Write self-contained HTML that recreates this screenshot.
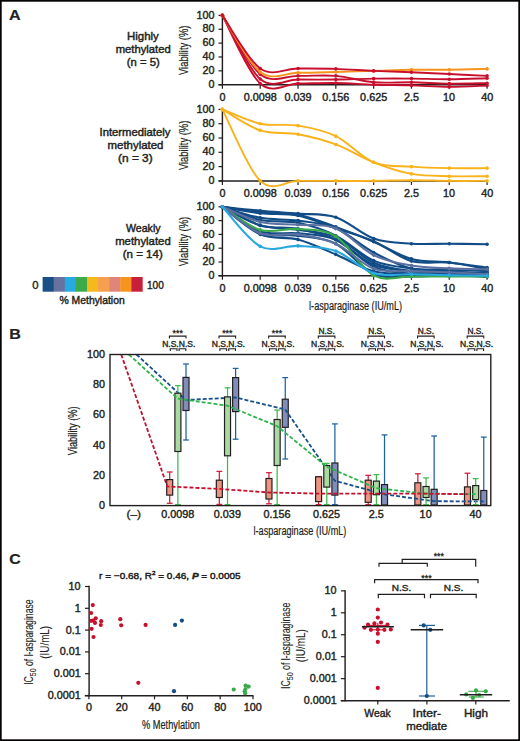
<!DOCTYPE html><html><head><meta charset="utf-8"><style>html,body{margin:0;padding:0;background:#fff;}svg{display:block;font-family:"Liberation Sans",sans-serif;} text{stroke:#231f20;stroke-width:0.35px;}</style></head><body>
<svg width="520" height="741" viewBox="0 0 520 741">
<rect x="0" y="0" width="520" height="741" fill="#fff"/>
<rect x="0.8" y="0.8" width="518.4" height="739.4" fill="none" stroke="#060304" stroke-width="1.8"/>
<text x="9.10" y="19.80" font-size="15" font-weight="bold" fill="#231f20" textLength="11.64" lengthAdjust="spacingAndGlyphs" style="stroke-width:0.2px" >A</text>
<text x="9.32" y="338.60" font-size="15" font-weight="bold" fill="#231f20" textLength="11.62" lengthAdjust="spacingAndGlyphs" style="stroke-width:0.2px" >B</text>
<text x="9.15" y="564.20" font-size="15" font-weight="bold" fill="#231f20" textLength="11.50" lengthAdjust="spacingAndGlyphs" style="stroke-width:0.2px" >C</text>
<text x="127.06" y="40.40" font-size="10.4" font-weight="normal" fill="#231f20" textLength="31.77" lengthAdjust="spacingAndGlyphs" style="stroke-width:0.42px" >Highly</text>
<text x="115.66" y="53.30" font-size="10.4" font-weight="normal" fill="#231f20" textLength="55.08" lengthAdjust="spacingAndGlyphs" style="stroke-width:0.42px" >methylated</text>
<text x="126.80" y="66.30" font-size="10.4" font-weight="normal" fill="#231f20" textLength="32.91" lengthAdjust="spacingAndGlyphs" style="stroke-width:0.42px" >(n = 5)</text>
<text x="-24.45" y="0" font-size="12" fill="#231f20" textLength="49.44" lengthAdjust="spacingAndGlyphs" transform="translate(187.70,50.55) rotate(-90)" style="stroke-width:0.2px">Viability (%)</text>
<line x1="218.50" y1="84.70" x2="222.40" y2="84.70" stroke="#231f20" stroke-width="1.2" />
<text x="208.62" y="87.82" font-size="10.5" font-weight="normal" fill="#231f20" textLength="6.01" lengthAdjust="spacingAndGlyphs" style="stroke-width:0.4px" >0</text>
<line x1="218.50" y1="70.84" x2="222.40" y2="70.84" stroke="#231f20" stroke-width="1.2" />
<text x="202.61" y="73.96" font-size="10.5" font-weight="normal" fill="#231f20" textLength="12.03" lengthAdjust="spacingAndGlyphs" style="stroke-width:0.4px" >20</text>
<line x1="218.50" y1="56.98" x2="222.40" y2="56.98" stroke="#231f20" stroke-width="1.2" />
<text x="202.61" y="60.10" font-size="10.5" font-weight="normal" fill="#231f20" textLength="12.03" lengthAdjust="spacingAndGlyphs" style="stroke-width:0.4px" >40</text>
<line x1="218.50" y1="43.12" x2="222.40" y2="43.12" stroke="#231f20" stroke-width="1.2" />
<text x="202.61" y="46.24" font-size="10.5" font-weight="normal" fill="#231f20" textLength="12.03" lengthAdjust="spacingAndGlyphs" style="stroke-width:0.4px" >60</text>
<line x1="218.50" y1="29.26" x2="222.40" y2="29.26" stroke="#231f20" stroke-width="1.2" />
<text x="202.61" y="32.38" font-size="10.5" font-weight="normal" fill="#231f20" textLength="12.03" lengthAdjust="spacingAndGlyphs" style="stroke-width:0.4px" >80</text>
<line x1="218.50" y1="15.40" x2="222.40" y2="15.40" stroke="#231f20" stroke-width="1.2" />
<text x="196.59" y="18.52" font-size="10.5" font-weight="normal" fill="#231f20" textLength="18.04" lengthAdjust="spacingAndGlyphs" style="stroke-width:0.4px" >100</text>
<line x1="222.40" y1="15.10" x2="222.40" y2="85.30" stroke="#231f20" stroke-width="1.45" />
<line x1="218.50" y1="84.70" x2="488.00" y2="84.70" stroke="#231f20" stroke-width="1.45" />
<line x1="222.40" y1="84.70" x2="222.40" y2="88.70" stroke="#231f20" stroke-width="1.2" />
<line x1="260.21" y1="84.70" x2="260.21" y2="88.70" stroke="#231f20" stroke-width="1.2" />
<line x1="298.02" y1="84.70" x2="298.02" y2="88.70" stroke="#231f20" stroke-width="1.2" />
<line x1="335.83" y1="84.70" x2="335.83" y2="88.70" stroke="#231f20" stroke-width="1.2" />
<line x1="373.64" y1="84.70" x2="373.64" y2="88.70" stroke="#231f20" stroke-width="1.2" />
<line x1="411.45" y1="84.70" x2="411.45" y2="88.70" stroke="#231f20" stroke-width="1.2" />
<line x1="449.26" y1="84.70" x2="449.26" y2="88.70" stroke="#231f20" stroke-width="1.2" />
<line x1="487.07" y1="84.70" x2="487.07" y2="88.70" stroke="#231f20" stroke-width="1.2" />
<path d="M222.40,15.40 C228.70,25.21 247.61,64.16 260.21,74.24 C272.81,84.31 285.42,75.56 298.02,75.83 C310.62,76.10 323.23,74.76 335.83,75.83 C348.43,76.90 361.04,81.20 373.64,82.27 C386.24,83.35 398.85,82.04 411.45,82.27 C424.05,82.51 436.66,83.51 449.26,83.66 C461.86,83.81 480.77,83.26 487.07,83.18" stroke="#c8102e" stroke-width="1.9" fill="none" />
<circle cx="222.40" cy="15.40" r="1.8" fill="#c8102e"/>
<circle cx="260.21" cy="74.24" r="1.8" fill="#c8102e"/>
<circle cx="298.02" cy="75.83" r="1.8" fill="#c8102e"/>
<circle cx="335.83" cy="75.83" r="1.8" fill="#c8102e"/>
<circle cx="373.64" cy="82.27" r="1.8" fill="#c8102e"/>
<circle cx="411.45" cy="82.27" r="1.8" fill="#c8102e"/>
<circle cx="449.26" cy="83.66" r="1.8" fill="#c8102e"/>
<circle cx="487.07" cy="83.18" r="1.8" fill="#c8102e"/>
<path d="M222.40,15.40 C228.70,26.00 247.61,68.32 260.21,79.02 C272.81,89.71 285.42,79.48 298.02,79.57 C310.62,79.66 323.23,79.72 335.83,79.57 C348.43,79.42 361.04,78.83 373.64,78.67 C386.24,78.51 398.85,78.51 411.45,78.60 C424.05,78.69 436.66,79.29 449.26,79.23 C461.86,79.16 480.77,78.36 487.07,78.19" stroke="#c8102e" stroke-width="1.9" fill="none" />
<circle cx="222.40" cy="15.40" r="1.8" fill="#c8102e"/>
<circle cx="260.21" cy="79.02" r="1.8" fill="#c8102e"/>
<circle cx="298.02" cy="79.57" r="1.8" fill="#c8102e"/>
<circle cx="335.83" cy="79.57" r="1.8" fill="#c8102e"/>
<circle cx="373.64" cy="78.67" r="1.8" fill="#c8102e"/>
<circle cx="411.45" cy="78.60" r="1.8" fill="#c8102e"/>
<circle cx="449.26" cy="79.23" r="1.8" fill="#c8102e"/>
<circle cx="487.07" cy="78.19" r="1.8" fill="#c8102e"/>
<path d="M222.40,15.40 C228.70,26.75 247.61,72.17 260.21,83.52 C272.81,94.88 285.42,83.61 298.02,83.52 C310.62,83.43 323.23,82.77 335.83,82.97 C348.43,83.16 361.04,84.30 373.64,84.70 C386.24,85.10 398.85,85.02 411.45,85.39 C424.05,85.76 436.66,86.88 449.26,86.92 C461.86,86.95 480.77,85.82 487.07,85.60" stroke="#c8102e" stroke-width="1.9" fill="none" />
<circle cx="222.40" cy="15.40" r="1.8" fill="#c8102e"/>
<circle cx="260.21" cy="83.52" r="1.8" fill="#c8102e"/>
<circle cx="298.02" cy="83.52" r="1.8" fill="#c8102e"/>
<circle cx="335.83" cy="82.97" r="1.8" fill="#c8102e"/>
<circle cx="373.64" cy="84.70" r="1.8" fill="#c8102e"/>
<circle cx="411.45" cy="85.39" r="1.8" fill="#c8102e"/>
<circle cx="449.26" cy="86.92" r="1.8" fill="#c8102e"/>
<circle cx="487.07" cy="85.60" r="1.8" fill="#c8102e"/>
<path d="M222.40,15.40 C228.70,24.82 247.61,62.40 260.21,71.95 C272.81,81.50 285.42,72.71 298.02,72.71 C310.62,72.71 323.23,72.25 335.83,71.95 C348.43,71.65 361.04,71.27 373.64,70.91 C386.24,70.55 398.85,70.00 411.45,69.80 C424.05,69.60 436.66,69.88 449.26,69.73 C461.86,69.58 480.77,69.04 487.07,68.90" stroke="#f7941d" stroke-width="1.9" fill="none" />
<circle cx="222.40" cy="15.40" r="1.8" fill="#f7941d"/>
<circle cx="260.21" cy="71.95" r="1.8" fill="#f7941d"/>
<circle cx="298.02" cy="72.71" r="1.8" fill="#f7941d"/>
<circle cx="335.83" cy="71.95" r="1.8" fill="#f7941d"/>
<circle cx="373.64" cy="70.91" r="1.8" fill="#f7941d"/>
<circle cx="411.45" cy="69.80" r="1.8" fill="#f7941d"/>
<circle cx="449.26" cy="69.73" r="1.8" fill="#f7941d"/>
<circle cx="487.07" cy="68.90" r="1.8" fill="#f7941d"/>
<path d="M222.40,15.40 C228.70,24.25 247.61,59.64 260.21,68.48 C272.81,77.33 285.42,68.43 298.02,68.48 C310.62,68.54 323.23,68.43 335.83,68.83 C348.43,69.23 361.04,70.33 373.64,70.91 C386.24,71.49 398.85,71.78 411.45,72.30 C424.05,72.82 436.66,73.44 449.26,74.03 C461.86,74.62 480.77,75.53 487.07,75.83" stroke="#c8102e" stroke-width="1.9" fill="none" />
<circle cx="222.40" cy="15.40" r="1.8" fill="#c8102e"/>
<circle cx="260.21" cy="68.48" r="1.8" fill="#c8102e"/>
<circle cx="298.02" cy="68.48" r="1.8" fill="#c8102e"/>
<circle cx="335.83" cy="68.83" r="1.8" fill="#c8102e"/>
<circle cx="373.64" cy="70.91" r="1.8" fill="#c8102e"/>
<circle cx="411.45" cy="72.30" r="1.8" fill="#c8102e"/>
<circle cx="449.26" cy="74.03" r="1.8" fill="#c8102e"/>
<circle cx="487.07" cy="75.83" r="1.8" fill="#c8102e"/>
<text x="219.40" y="100.72" font-size="10.5" font-weight="normal" fill="#231f20" textLength="6.01" lengthAdjust="spacingAndGlyphs" style="stroke-width:0.4px" >0</text>
<text x="243.70" y="100.72" font-size="10.5" font-weight="normal" fill="#231f20" textLength="33.08" lengthAdjust="spacingAndGlyphs" style="stroke-width:0.4px" >0.0098</text>
<text x="284.54" y="100.72" font-size="10.5" font-weight="normal" fill="#231f20" textLength="27.06" lengthAdjust="spacingAndGlyphs" style="stroke-width:0.4px" >0.039</text>
<text x="322.33" y="100.72" font-size="10.5" font-weight="normal" fill="#231f20" textLength="27.06" lengthAdjust="spacingAndGlyphs" style="stroke-width:0.4px" >0.156</text>
<text x="360.13" y="100.72" font-size="10.5" font-weight="normal" fill="#231f20" textLength="27.06" lengthAdjust="spacingAndGlyphs" style="stroke-width:0.4px" >0.625</text>
<text x="403.90" y="100.72" font-size="10.5" font-weight="normal" fill="#231f20" textLength="15.03" lengthAdjust="spacingAndGlyphs" style="stroke-width:0.4px" >2.5</text>
<text x="443.05" y="100.72" font-size="10.5" font-weight="normal" fill="#231f20" textLength="12.03" lengthAdjust="spacingAndGlyphs" style="stroke-width:0.4px" >10</text>
<text x="481.15" y="100.72" font-size="10.5" font-weight="normal" fill="#231f20" textLength="12.03" lengthAdjust="spacingAndGlyphs" style="stroke-width:0.4px" >40</text>
<text x="99.56" y="135.80" font-size="10.4" font-weight="normal" fill="#231f20" textLength="70.87" lengthAdjust="spacingAndGlyphs" style="stroke-width:0.42px" >Intermediately</text>
<text x="107.55" y="148.70" font-size="10.4" font-weight="normal" fill="#231f20" textLength="55.90" lengthAdjust="spacingAndGlyphs" style="stroke-width:0.42px" >methylated</text>
<text x="118.07" y="161.60" font-size="10.4" font-weight="normal" fill="#231f20" textLength="34.58" lengthAdjust="spacingAndGlyphs" style="stroke-width:0.42px" >(n = 3)</text>
<text x="-24.45" y="0" font-size="12" fill="#231f20" textLength="49.44" lengthAdjust="spacingAndGlyphs" transform="translate(187.70,145.65) rotate(-90)" style="stroke-width:0.2px">Viability (%)</text>
<line x1="218.50" y1="180.90" x2="222.40" y2="180.90" stroke="#231f20" stroke-width="1.2" />
<text x="208.62" y="184.02" font-size="10.5" font-weight="normal" fill="#231f20" textLength="6.01" lengthAdjust="spacingAndGlyphs" style="stroke-width:0.4px" >0</text>
<line x1="218.50" y1="166.60" x2="222.40" y2="166.60" stroke="#231f20" stroke-width="1.2" />
<text x="202.61" y="169.72" font-size="10.5" font-weight="normal" fill="#231f20" textLength="12.03" lengthAdjust="spacingAndGlyphs" style="stroke-width:0.4px" >20</text>
<line x1="218.50" y1="152.30" x2="222.40" y2="152.30" stroke="#231f20" stroke-width="1.2" />
<text x="202.61" y="155.42" font-size="10.5" font-weight="normal" fill="#231f20" textLength="12.03" lengthAdjust="spacingAndGlyphs" style="stroke-width:0.4px" >40</text>
<line x1="218.50" y1="138.00" x2="222.40" y2="138.00" stroke="#231f20" stroke-width="1.2" />
<text x="202.61" y="141.12" font-size="10.5" font-weight="normal" fill="#231f20" textLength="12.03" lengthAdjust="spacingAndGlyphs" style="stroke-width:0.4px" >60</text>
<line x1="218.50" y1="123.70" x2="222.40" y2="123.70" stroke="#231f20" stroke-width="1.2" />
<text x="202.61" y="126.82" font-size="10.5" font-weight="normal" fill="#231f20" textLength="12.03" lengthAdjust="spacingAndGlyphs" style="stroke-width:0.4px" >80</text>
<line x1="218.50" y1="109.40" x2="222.40" y2="109.40" stroke="#231f20" stroke-width="1.2" />
<text x="196.59" y="112.52" font-size="10.5" font-weight="normal" fill="#231f20" textLength="18.04" lengthAdjust="spacingAndGlyphs" style="stroke-width:0.4px" >100</text>
<line x1="222.40" y1="109.10" x2="222.40" y2="181.50" stroke="#231f20" stroke-width="1.45" />
<line x1="218.50" y1="180.90" x2="488.00" y2="180.90" stroke="#231f20" stroke-width="1.45" />
<line x1="222.40" y1="180.90" x2="222.40" y2="184.90" stroke="#231f20" stroke-width="1.2" />
<line x1="260.21" y1="180.90" x2="260.21" y2="184.90" stroke="#231f20" stroke-width="1.2" />
<line x1="298.02" y1="180.90" x2="298.02" y2="184.90" stroke="#231f20" stroke-width="1.2" />
<line x1="335.83" y1="180.90" x2="335.83" y2="184.90" stroke="#231f20" stroke-width="1.2" />
<line x1="373.64" y1="180.90" x2="373.64" y2="184.90" stroke="#231f20" stroke-width="1.2" />
<line x1="411.45" y1="180.90" x2="411.45" y2="184.90" stroke="#231f20" stroke-width="1.2" />
<line x1="449.26" y1="180.90" x2="449.26" y2="184.90" stroke="#231f20" stroke-width="1.2" />
<line x1="487.07" y1="180.90" x2="487.07" y2="184.90" stroke="#231f20" stroke-width="1.2" />
<path d="M222.40,109.40 C228.70,111.78 247.61,120.99 260.21,123.70 C272.81,126.41 285.42,123.56 298.02,125.63 C310.62,127.70 323.23,130.03 335.83,136.14 C348.43,142.25 361.04,157.22 373.64,162.31 C386.24,167.40 398.85,165.69 411.45,166.67 C424.05,167.65 436.66,167.92 449.26,168.17 C461.86,168.42 480.77,168.17 487.07,168.17" stroke="#f9b21a" stroke-width="1.9" fill="none" />
<circle cx="222.40" cy="109.40" r="1.8" fill="#f9b21a"/>
<circle cx="260.21" cy="123.70" r="1.8" fill="#f9b21a"/>
<circle cx="298.02" cy="125.63" r="1.8" fill="#f9b21a"/>
<circle cx="335.83" cy="136.14" r="1.8" fill="#f9b21a"/>
<circle cx="373.64" cy="162.31" r="1.8" fill="#f9b21a"/>
<circle cx="411.45" cy="166.67" r="1.8" fill="#f9b21a"/>
<circle cx="449.26" cy="168.17" r="1.8" fill="#f9b21a"/>
<circle cx="487.07" cy="168.17" r="1.8" fill="#f9b21a"/>
<path d="M222.40,109.40 C228.70,112.90 247.61,126.29 260.21,130.42 C272.81,134.56 285.42,131.87 298.02,134.21 C310.62,136.55 323.23,139.75 335.83,144.44 C348.43,149.12 361.04,157.40 373.64,162.31 C386.24,167.22 398.85,171.58 411.45,173.89 C424.05,176.20 436.66,175.80 449.26,176.18 C461.86,176.56 480.77,176.18 487.07,176.18" stroke="#f9b21a" stroke-width="1.9" fill="none" />
<circle cx="222.40" cy="109.40" r="1.8" fill="#f9b21a"/>
<circle cx="260.21" cy="130.42" r="1.8" fill="#f9b21a"/>
<circle cx="298.02" cy="134.21" r="1.8" fill="#f9b21a"/>
<circle cx="335.83" cy="144.44" r="1.8" fill="#f9b21a"/>
<circle cx="373.64" cy="162.31" r="1.8" fill="#f9b21a"/>
<circle cx="411.45" cy="173.89" r="1.8" fill="#f9b21a"/>
<circle cx="449.26" cy="176.18" r="1.8" fill="#f9b21a"/>
<circle cx="487.07" cy="176.18" r="1.8" fill="#f9b21a"/>
<path d="M222.40,109.40 C228.70,121.32 247.61,168.98 260.21,180.90 C272.81,192.82 285.42,180.90 298.02,180.90 C310.62,180.90 323.23,180.90 335.83,180.90 C348.43,180.90 361.04,181.02 373.64,180.90 C386.24,180.78 398.85,180.19 411.45,180.19 C424.05,180.19 436.66,180.78 449.26,180.90 C461.86,181.02 480.77,180.90 487.07,180.90" stroke="#f9b21a" stroke-width="1.9" fill="none" />
<circle cx="222.40" cy="109.40" r="1.8" fill="#f9b21a"/>
<circle cx="260.21" cy="180.90" r="1.8" fill="#f9b21a"/>
<circle cx="298.02" cy="180.90" r="1.8" fill="#f9b21a"/>
<circle cx="335.83" cy="180.90" r="1.8" fill="#f9b21a"/>
<circle cx="373.64" cy="180.90" r="1.8" fill="#f9b21a"/>
<circle cx="411.45" cy="180.19" r="1.8" fill="#f9b21a"/>
<circle cx="449.26" cy="180.90" r="1.8" fill="#f9b21a"/>
<circle cx="487.07" cy="180.90" r="1.8" fill="#f9b21a"/>
<text x="219.40" y="196.92" font-size="10.5" font-weight="normal" fill="#231f20" textLength="6.01" lengthAdjust="spacingAndGlyphs" style="stroke-width:0.4px" >0</text>
<text x="243.70" y="196.92" font-size="10.5" font-weight="normal" fill="#231f20" textLength="33.08" lengthAdjust="spacingAndGlyphs" style="stroke-width:0.4px" >0.0098</text>
<text x="284.54" y="196.92" font-size="10.5" font-weight="normal" fill="#231f20" textLength="27.06" lengthAdjust="spacingAndGlyphs" style="stroke-width:0.4px" >0.039</text>
<text x="322.33" y="196.92" font-size="10.5" font-weight="normal" fill="#231f20" textLength="27.06" lengthAdjust="spacingAndGlyphs" style="stroke-width:0.4px" >0.156</text>
<text x="360.13" y="196.92" font-size="10.5" font-weight="normal" fill="#231f20" textLength="27.06" lengthAdjust="spacingAndGlyphs" style="stroke-width:0.4px" >0.625</text>
<text x="403.90" y="196.92" font-size="10.5" font-weight="normal" fill="#231f20" textLength="15.03" lengthAdjust="spacingAndGlyphs" style="stroke-width:0.4px" >2.5</text>
<text x="443.05" y="196.92" font-size="10.5" font-weight="normal" fill="#231f20" textLength="12.03" lengthAdjust="spacingAndGlyphs" style="stroke-width:0.4px" >10</text>
<text x="481.15" y="196.92" font-size="10.5" font-weight="normal" fill="#231f20" textLength="12.03" lengthAdjust="spacingAndGlyphs" style="stroke-width:0.4px" >40</text>
<text x="125.95" y="232.30" font-size="10.4" font-weight="normal" fill="#231f20" textLength="34.69" lengthAdjust="spacingAndGlyphs" style="stroke-width:0.42px" >Weakly</text>
<text x="115.15" y="245.20" font-size="10.4" font-weight="normal" fill="#231f20" textLength="55.60" lengthAdjust="spacingAndGlyphs" style="stroke-width:0.42px" >methylated</text>
<text x="122.69" y="258.10" font-size="10.4" font-weight="normal" fill="#231f20" textLength="40.04" lengthAdjust="spacingAndGlyphs" style="stroke-width:0.42px" >(n = 14)</text>
<text x="-24.45" y="0" font-size="12" fill="#231f20" textLength="49.44" lengthAdjust="spacingAndGlyphs" transform="translate(187.70,241.80) rotate(-90)" style="stroke-width:0.2px">Viability (%)</text>
<line x1="218.50" y1="275.80" x2="222.40" y2="275.80" stroke="#231f20" stroke-width="1.2" />
<text x="208.62" y="278.92" font-size="10.5" font-weight="normal" fill="#231f20" textLength="6.01" lengthAdjust="spacingAndGlyphs" style="stroke-width:0.4px" >0</text>
<line x1="218.50" y1="262.00" x2="222.40" y2="262.00" stroke="#231f20" stroke-width="1.2" />
<text x="202.61" y="265.12" font-size="10.5" font-weight="normal" fill="#231f20" textLength="12.03" lengthAdjust="spacingAndGlyphs" style="stroke-width:0.4px" >20</text>
<line x1="218.50" y1="248.20" x2="222.40" y2="248.20" stroke="#231f20" stroke-width="1.2" />
<text x="202.61" y="251.32" font-size="10.5" font-weight="normal" fill="#231f20" textLength="12.03" lengthAdjust="spacingAndGlyphs" style="stroke-width:0.4px" >40</text>
<line x1="218.50" y1="234.40" x2="222.40" y2="234.40" stroke="#231f20" stroke-width="1.2" />
<text x="202.61" y="237.52" font-size="10.5" font-weight="normal" fill="#231f20" textLength="12.03" lengthAdjust="spacingAndGlyphs" style="stroke-width:0.4px" >60</text>
<line x1="218.50" y1="220.60" x2="222.40" y2="220.60" stroke="#231f20" stroke-width="1.2" />
<text x="202.61" y="223.72" font-size="10.5" font-weight="normal" fill="#231f20" textLength="12.03" lengthAdjust="spacingAndGlyphs" style="stroke-width:0.4px" >80</text>
<line x1="218.50" y1="206.80" x2="222.40" y2="206.80" stroke="#231f20" stroke-width="1.2" />
<text x="196.59" y="209.92" font-size="10.5" font-weight="normal" fill="#231f20" textLength="18.04" lengthAdjust="spacingAndGlyphs" style="stroke-width:0.4px" >100</text>
<line x1="222.40" y1="206.50" x2="222.40" y2="276.40" stroke="#231f20" stroke-width="1.45" />
<line x1="218.50" y1="275.80" x2="488.00" y2="275.80" stroke="#231f20" stroke-width="1.45" />
<line x1="222.40" y1="275.80" x2="222.40" y2="279.80" stroke="#231f20" stroke-width="1.2" />
<line x1="260.21" y1="275.80" x2="260.21" y2="279.80" stroke="#231f20" stroke-width="1.2" />
<line x1="298.02" y1="275.80" x2="298.02" y2="279.80" stroke="#231f20" stroke-width="1.2" />
<line x1="335.83" y1="275.80" x2="335.83" y2="279.80" stroke="#231f20" stroke-width="1.2" />
<line x1="373.64" y1="275.80" x2="373.64" y2="279.80" stroke="#231f20" stroke-width="1.2" />
<line x1="411.45" y1="275.80" x2="411.45" y2="279.80" stroke="#231f20" stroke-width="1.2" />
<line x1="449.26" y1="275.80" x2="449.26" y2="279.80" stroke="#231f20" stroke-width="1.2" />
<line x1="487.07" y1="275.80" x2="487.07" y2="279.80" stroke="#231f20" stroke-width="1.2" />
<path d="M222.40,206.80 C228.70,207.46 247.61,209.59 260.21,210.73 C272.81,211.87 285.42,212.55 298.02,213.63 C310.62,214.71 323.23,213.07 335.83,217.22 C348.43,221.37 361.04,234.12 373.64,238.54 C386.24,242.96 398.85,242.85 411.45,243.72 C424.05,244.58 436.66,243.62 449.26,243.72 C461.86,243.81 480.77,244.18 487.07,244.27" stroke="#124c86" stroke-width="2.1" fill="none" />
<circle cx="222.40" cy="206.80" r="1.8" fill="#124c86"/>
<circle cx="260.21" cy="210.73" r="1.8" fill="#124c86"/>
<circle cx="298.02" cy="213.63" r="1.8" fill="#124c86"/>
<circle cx="335.83" cy="217.22" r="1.8" fill="#124c86"/>
<circle cx="373.64" cy="238.54" r="1.8" fill="#124c86"/>
<circle cx="411.45" cy="243.72" r="1.8" fill="#124c86"/>
<circle cx="449.26" cy="243.72" r="1.8" fill="#124c86"/>
<circle cx="487.07" cy="244.27" r="1.8" fill="#124c86"/>
<path d="M222.40,206.80 C228.70,207.72 247.61,211.00 260.21,212.32 C272.81,213.64 285.42,212.31 298.02,214.74 C310.62,217.16 323.23,222.38 335.83,226.88 C348.43,231.38 361.04,236.38 373.64,241.71 C386.24,247.05 398.85,255.43 411.45,258.90 C424.05,262.36 436.66,261.05 449.26,262.48 C461.86,263.92 480.77,266.68 487.07,267.52" stroke="#124c86" stroke-width="2.1" fill="none" />
<circle cx="222.40" cy="206.80" r="1.8" fill="#124c86"/>
<circle cx="260.21" cy="212.32" r="1.8" fill="#124c86"/>
<circle cx="298.02" cy="214.74" r="1.8" fill="#124c86"/>
<circle cx="335.83" cy="226.88" r="1.8" fill="#124c86"/>
<circle cx="373.64" cy="241.71" r="1.8" fill="#124c86"/>
<circle cx="411.45" cy="258.90" r="1.8" fill="#124c86"/>
<circle cx="449.26" cy="262.48" r="1.8" fill="#124c86"/>
<circle cx="487.07" cy="267.52" r="1.8" fill="#124c86"/>
<path d="M222.40,206.80 C228.70,207.87 247.61,211.77 260.21,213.22 C272.81,214.67 285.42,212.98 298.02,215.49 C310.62,218.01 323.23,224.03 335.83,228.33 C348.43,232.63 361.04,235.84 373.64,241.30 C386.24,246.76 398.85,257.57 411.45,261.10 C424.05,264.63 436.66,261.11 449.26,262.48 C461.86,263.85 480.77,268.18 487.07,269.31" stroke="#124c86" stroke-width="2.1" fill="none" />
<circle cx="222.40" cy="206.80" r="1.8" fill="#124c86"/>
<circle cx="260.21" cy="213.22" r="1.8" fill="#124c86"/>
<circle cx="298.02" cy="215.49" r="1.8" fill="#124c86"/>
<circle cx="335.83" cy="228.33" r="1.8" fill="#124c86"/>
<circle cx="373.64" cy="241.30" r="1.8" fill="#124c86"/>
<circle cx="411.45" cy="261.10" r="1.8" fill="#124c86"/>
<circle cx="449.26" cy="262.48" r="1.8" fill="#124c86"/>
<circle cx="487.07" cy="269.31" r="1.8" fill="#124c86"/>
<path d="M222.40,206.80 C228.70,208.64 247.61,215.54 260.21,217.84 C272.81,220.14 285.42,218.85 298.02,220.60 C310.62,222.35 323.23,223.02 335.83,228.33 C348.43,233.64 361.04,245.80 373.64,252.48 C386.24,259.16 398.85,265.68 411.45,268.42 C424.05,271.15 436.66,268.45 449.26,268.90 C461.86,269.35 480.77,270.74 487.07,271.11" stroke="#124c86" stroke-width="2.1" fill="none" />
<circle cx="222.40" cy="206.80" r="1.8" fill="#124c86"/>
<circle cx="260.21" cy="217.84" r="1.8" fill="#124c86"/>
<circle cx="298.02" cy="220.60" r="1.8" fill="#124c86"/>
<circle cx="335.83" cy="228.33" r="1.8" fill="#124c86"/>
<circle cx="373.64" cy="252.48" r="1.8" fill="#124c86"/>
<circle cx="411.45" cy="268.42" r="1.8" fill="#124c86"/>
<circle cx="449.26" cy="268.90" r="1.8" fill="#124c86"/>
<circle cx="487.07" cy="271.11" r="1.8" fill="#124c86"/>
<path d="M222.40,206.80 C228.70,208.99 247.61,217.24 260.21,219.91 C272.81,222.58 285.42,220.17 298.02,222.81 C310.62,225.44 323.23,229.41 335.83,235.71 C348.43,242.01 361.04,255.17 373.64,260.62 C386.24,266.07 398.85,266.67 411.45,268.42 C424.05,270.17 436.66,270.96 449.26,271.11 C461.86,271.26 480.77,269.61 487.07,269.31" stroke="#124c86" stroke-width="2.1" fill="none" />
<circle cx="222.40" cy="206.80" r="1.8" fill="#124c86"/>
<circle cx="260.21" cy="219.91" r="1.8" fill="#124c86"/>
<circle cx="298.02" cy="222.81" r="1.8" fill="#124c86"/>
<circle cx="335.83" cy="235.71" r="1.8" fill="#124c86"/>
<circle cx="373.64" cy="260.62" r="1.8" fill="#124c86"/>
<circle cx="411.45" cy="268.42" r="1.8" fill="#124c86"/>
<circle cx="449.26" cy="271.11" r="1.8" fill="#124c86"/>
<circle cx="487.07" cy="269.31" r="1.8" fill="#124c86"/>
<path d="M222.40,206.80 C228.70,209.86 247.61,221.30 260.21,225.15 C272.81,229.01 285.42,227.94 298.02,229.92 C310.62,231.89 323.23,231.56 335.83,237.02 C348.43,242.48 361.04,257.01 373.64,262.69 C386.24,268.37 398.85,269.50 411.45,271.11 C424.05,272.72 436.66,272.05 449.26,272.35 C461.86,272.65 480.77,272.81 487.07,272.90" stroke="#124c86" stroke-width="2.1" fill="none" />
<circle cx="222.40" cy="206.80" r="1.8" fill="#124c86"/>
<circle cx="260.21" cy="225.15" r="1.8" fill="#124c86"/>
<circle cx="298.02" cy="229.92" r="1.8" fill="#124c86"/>
<circle cx="335.83" cy="237.02" r="1.8" fill="#124c86"/>
<circle cx="373.64" cy="262.69" r="1.8" fill="#124c86"/>
<circle cx="411.45" cy="271.11" r="1.8" fill="#124c86"/>
<circle cx="449.26" cy="272.35" r="1.8" fill="#124c86"/>
<circle cx="487.07" cy="272.90" r="1.8" fill="#124c86"/>
<path d="M222.40,206.80 C228.70,209.91 247.61,221.75 260.21,225.43 C272.81,229.11 285.42,226.50 298.02,228.88 C310.62,231.26 323.23,233.73 335.83,239.71 C348.43,245.69 361.04,259.53 373.64,264.76 C386.24,269.99 398.85,269.84 411.45,271.11 C424.05,272.37 436.66,272.05 449.26,272.35 C461.86,272.65 480.77,272.81 487.07,272.90" stroke="#124c86" stroke-width="2.1" fill="none" />
<circle cx="222.40" cy="206.80" r="1.8" fill="#124c86"/>
<circle cx="260.21" cy="225.43" r="1.8" fill="#124c86"/>
<circle cx="298.02" cy="228.88" r="1.8" fill="#124c86"/>
<circle cx="335.83" cy="239.71" r="1.8" fill="#124c86"/>
<circle cx="373.64" cy="264.76" r="1.8" fill="#124c86"/>
<circle cx="411.45" cy="271.11" r="1.8" fill="#124c86"/>
<circle cx="449.26" cy="272.35" r="1.8" fill="#124c86"/>
<circle cx="487.07" cy="272.90" r="1.8" fill="#124c86"/>
<path d="M222.40,206.80 C228.70,210.89 247.61,226.96 260.21,231.36 C272.81,235.77 285.42,231.84 298.02,233.23 C310.62,234.62 323.23,234.15 335.83,239.71 C348.43,245.28 361.04,260.93 373.64,266.62 C386.24,272.32 398.85,272.66 411.45,273.87 C424.05,275.08 436.66,273.73 449.26,273.87 C461.86,274.01 480.77,274.56 487.07,274.70" stroke="#124c86" stroke-width="2.1" fill="none" />
<circle cx="222.40" cy="206.80" r="1.8" fill="#124c86"/>
<circle cx="260.21" cy="231.36" r="1.8" fill="#124c86"/>
<circle cx="298.02" cy="233.23" r="1.8" fill="#124c86"/>
<circle cx="335.83" cy="239.71" r="1.8" fill="#124c86"/>
<circle cx="373.64" cy="266.62" r="1.8" fill="#124c86"/>
<circle cx="411.45" cy="273.87" r="1.8" fill="#124c86"/>
<circle cx="449.26" cy="273.87" r="1.8" fill="#124c86"/>
<circle cx="487.07" cy="274.70" r="1.8" fill="#124c86"/>
<path d="M222.40,206.80 C228.70,211.40 247.61,228.94 260.21,234.40 C272.81,239.86 285.42,236.23 298.02,239.58 C310.62,242.92 323.23,249.19 335.83,254.48 C348.43,259.77 361.04,268.08 373.64,271.31 C386.24,274.55 398.85,273.22 411.45,273.87 C424.05,274.51 436.66,275.04 449.26,275.18 C461.86,275.32 480.77,274.78 487.07,274.70" stroke="#124c86" stroke-width="2.1" fill="none" />
<circle cx="222.40" cy="206.80" r="1.8" fill="#124c86"/>
<circle cx="260.21" cy="234.40" r="1.8" fill="#124c86"/>
<circle cx="298.02" cy="239.58" r="1.8" fill="#124c86"/>
<circle cx="335.83" cy="254.48" r="1.8" fill="#124c86"/>
<circle cx="373.64" cy="271.31" r="1.8" fill="#124c86"/>
<circle cx="411.45" cy="273.87" r="1.8" fill="#124c86"/>
<circle cx="449.26" cy="275.18" r="1.8" fill="#124c86"/>
<circle cx="487.07" cy="274.70" r="1.8" fill="#124c86"/>
<path d="M222.40,206.80 C228.70,211.17 247.61,228.19 260.21,233.02 C272.81,237.85 285.42,234.00 298.02,235.78 C310.62,237.56 323.23,237.34 335.83,243.72 C348.43,250.09 361.04,268.54 373.64,274.01 C386.24,279.47 398.85,276.29 411.45,276.49 C424.05,276.69 436.66,275.12 449.26,275.18 C461.86,275.24 480.77,276.56 487.07,276.84" stroke="#124c86" stroke-width="2.1" fill="none" />
<circle cx="222.40" cy="206.80" r="1.8" fill="#124c86"/>
<circle cx="260.21" cy="233.02" r="1.8" fill="#124c86"/>
<circle cx="298.02" cy="235.78" r="1.8" fill="#124c86"/>
<circle cx="335.83" cy="243.72" r="1.8" fill="#124c86"/>
<circle cx="373.64" cy="274.01" r="1.8" fill="#124c86"/>
<circle cx="411.45" cy="276.49" r="1.8" fill="#124c86"/>
<circle cx="449.26" cy="275.18" r="1.8" fill="#124c86"/>
<circle cx="487.07" cy="276.84" r="1.8" fill="#124c86"/>
<path d="M222.40,206.80 C228.70,210.65 247.61,226.22 260.21,229.92 C272.81,233.61 285.42,227.86 298.02,228.95 C310.62,230.04 323.23,228.73 335.83,236.47 C348.43,244.21 361.04,268.72 373.64,275.39 C386.24,282.06 398.85,276.31 411.45,276.49 C424.05,276.67 436.66,276.49 449.26,276.49 C461.86,276.49 480.77,276.49 487.07,276.49" stroke="#3aaa48" stroke-width="2.1" fill="none" />
<circle cx="222.40" cy="206.80" r="1.8" fill="#3aaa48"/>
<circle cx="260.21" cy="229.92" r="1.8" fill="#3aaa48"/>
<circle cx="298.02" cy="228.95" r="1.8" fill="#3aaa48"/>
<circle cx="335.83" cy="236.47" r="1.8" fill="#3aaa48"/>
<circle cx="373.64" cy="275.39" r="1.8" fill="#3aaa48"/>
<circle cx="411.45" cy="276.49" r="1.8" fill="#3aaa48"/>
<circle cx="449.26" cy="276.49" r="1.8" fill="#3aaa48"/>
<circle cx="487.07" cy="276.49" r="1.8" fill="#3aaa48"/>
<path d="M222.40,206.80 C228.70,209.33 247.61,218.99 260.21,221.98 C272.81,224.97 285.42,223.68 298.02,224.74 C310.62,225.80 323.23,223.27 335.83,228.33 C348.43,233.39 361.04,248.89 373.64,255.10 C386.24,261.31 398.85,263.37 411.45,265.59 C424.05,267.81 436.66,267.80 449.26,268.42 C461.86,269.04 480.77,269.16 487.07,269.31" stroke="#5b70a0" stroke-width="2.1" fill="none" />
<circle cx="222.40" cy="206.80" r="1.8" fill="#5b70a0"/>
<circle cx="260.21" cy="221.98" r="1.8" fill="#5b70a0"/>
<circle cx="298.02" cy="224.74" r="1.8" fill="#5b70a0"/>
<circle cx="335.83" cy="228.33" r="1.8" fill="#5b70a0"/>
<circle cx="373.64" cy="255.10" r="1.8" fill="#5b70a0"/>
<circle cx="411.45" cy="265.59" r="1.8" fill="#5b70a0"/>
<circle cx="449.26" cy="268.42" r="1.8" fill="#5b70a0"/>
<circle cx="487.07" cy="269.31" r="1.8" fill="#5b70a0"/>
<path d="M222.40,206.80 C228.70,211.20 247.61,228.63 260.21,233.23 C272.81,237.83 285.42,232.65 298.02,234.40 C310.62,236.15 323.23,238.01 335.83,243.72 C348.43,249.42 361.04,264.06 373.64,268.62 C386.24,273.19 398.85,270.49 411.45,271.11 C424.05,271.73 436.66,271.83 449.26,272.35 C461.86,272.87 480.77,273.90 487.07,274.21" stroke="#5b70a0" stroke-width="2.1" fill="none" />
<circle cx="222.40" cy="206.80" r="1.8" fill="#5b70a0"/>
<circle cx="260.21" cy="233.23" r="1.8" fill="#5b70a0"/>
<circle cx="298.02" cy="234.40" r="1.8" fill="#5b70a0"/>
<circle cx="335.83" cy="243.72" r="1.8" fill="#5b70a0"/>
<circle cx="373.64" cy="268.62" r="1.8" fill="#5b70a0"/>
<circle cx="411.45" cy="271.11" r="1.8" fill="#5b70a0"/>
<circle cx="449.26" cy="272.35" r="1.8" fill="#5b70a0"/>
<circle cx="487.07" cy="274.21" r="1.8" fill="#5b70a0"/>
<path d="M222.40,206.80 C228.70,213.39 247.61,239.82 260.21,246.34 C272.81,252.86 285.42,245.13 298.02,245.92 C310.62,246.72 323.23,246.54 335.83,251.10 C348.43,255.65 361.04,269.39 373.64,273.25 C386.24,277.10 398.85,273.89 411.45,274.21 C424.05,274.54 436.66,274.91 449.26,275.18 C461.86,275.44 480.77,275.70 487.07,275.80" stroke="#27a8e0" stroke-width="2.1" fill="none" />
<circle cx="222.40" cy="206.80" r="1.8" fill="#27a8e0"/>
<circle cx="260.21" cy="246.34" r="1.8" fill="#27a8e0"/>
<circle cx="298.02" cy="245.92" r="1.8" fill="#27a8e0"/>
<circle cx="335.83" cy="251.10" r="1.8" fill="#27a8e0"/>
<circle cx="373.64" cy="273.25" r="1.8" fill="#27a8e0"/>
<circle cx="411.45" cy="274.21" r="1.8" fill="#27a8e0"/>
<circle cx="449.26" cy="275.18" r="1.8" fill="#27a8e0"/>
<circle cx="487.07" cy="275.80" r="1.8" fill="#27a8e0"/>
<text x="219.40" y="291.82" font-size="10.5" font-weight="normal" fill="#231f20" textLength="6.01" lengthAdjust="spacingAndGlyphs" style="stroke-width:0.4px" >0</text>
<text x="243.70" y="291.82" font-size="10.5" font-weight="normal" fill="#231f20" textLength="33.08" lengthAdjust="spacingAndGlyphs" style="stroke-width:0.4px" >0.0098</text>
<text x="284.54" y="291.82" font-size="10.5" font-weight="normal" fill="#231f20" textLength="27.06" lengthAdjust="spacingAndGlyphs" style="stroke-width:0.4px" >0.039</text>
<text x="322.33" y="291.82" font-size="10.5" font-weight="normal" fill="#231f20" textLength="27.06" lengthAdjust="spacingAndGlyphs" style="stroke-width:0.4px" >0.156</text>
<text x="360.13" y="291.82" font-size="10.5" font-weight="normal" fill="#231f20" textLength="27.06" lengthAdjust="spacingAndGlyphs" style="stroke-width:0.4px" >0.625</text>
<text x="403.90" y="291.82" font-size="10.5" font-weight="normal" fill="#231f20" textLength="15.03" lengthAdjust="spacingAndGlyphs" style="stroke-width:0.4px" >2.5</text>
<text x="443.05" y="291.82" font-size="10.5" font-weight="normal" fill="#231f20" textLength="12.03" lengthAdjust="spacingAndGlyphs" style="stroke-width:0.4px" >10</text>
<text x="481.15" y="291.82" font-size="10.5" font-weight="normal" fill="#231f20" textLength="12.03" lengthAdjust="spacingAndGlyphs" style="stroke-width:0.4px" >40</text>
<text x="309.09" y="310.30" font-size="12" font-weight="normal" fill="#231f20" textLength="92.99" lengthAdjust="spacingAndGlyphs" style="stroke-width:0.2px" >l-asparaginase (IU/mL)</text>
<rect x="42.60" y="277" width="11.39" height="14.7" fill="#1b4f85"/>
<rect x="53.69" y="277" width="11.39" height="14.7" fill="#6673a0"/>
<rect x="64.78" y="277" width="11.39" height="14.7" fill="#27a9e1"/>
<rect x="75.87" y="277" width="11.39" height="14.7" fill="#3aaa4a"/>
<rect x="86.96" y="277" width="11.39" height="14.7" fill="#f5b91c"/>
<rect x="98.04" y="277" width="11.39" height="14.7" fill="#f6a04f"/>
<rect x="109.13" y="277" width="11.39" height="14.7" fill="#e0857a"/>
<rect x="120.22" y="277" width="11.39" height="14.7" fill="#f7941d"/>
<rect x="131.31" y="277" width="11.39" height="14.7" fill="#c8203a"/>
<text x="32.36" y="288.92" font-size="10.5" font-weight="normal" fill="#231f20" textLength="6.30" lengthAdjust="spacingAndGlyphs" >0</text>
<text x="146.93" y="288.92" font-size="10.5" font-weight="normal" fill="#231f20" textLength="16.88" lengthAdjust="spacingAndGlyphs" style="stroke-width:0.4px" >100</text>
<text x="59.53" y="303.50" font-size="10.4" font-weight="normal" fill="#231f20" textLength="65.16" lengthAdjust="spacingAndGlyphs" style="stroke-width:0.42px" >% Methylation</text>
<text x="99.12" y="509.02" font-size="10.5" font-weight="normal" fill="#231f20" textLength="6.01" lengthAdjust="spacingAndGlyphs" style="stroke-width:0.4px" >0</text>
<text x="93.11" y="478.80" font-size="10.5" font-weight="normal" fill="#231f20" textLength="12.03" lengthAdjust="spacingAndGlyphs" style="stroke-width:0.4px" >20</text>
<text x="93.11" y="448.58" font-size="10.5" font-weight="normal" fill="#231f20" textLength="12.03" lengthAdjust="spacingAndGlyphs" style="stroke-width:0.4px" >40</text>
<text x="93.11" y="418.36" font-size="10.5" font-weight="normal" fill="#231f20" textLength="12.03" lengthAdjust="spacingAndGlyphs" style="stroke-width:0.4px" >60</text>
<text x="93.11" y="388.14" font-size="10.5" font-weight="normal" fill="#231f20" textLength="12.03" lengthAdjust="spacingAndGlyphs" style="stroke-width:0.4px" >80</text>
<text x="87.09" y="357.92" font-size="10.5" font-weight="normal" fill="#231f20" textLength="18.04" lengthAdjust="spacingAndGlyphs" style="stroke-width:0.4px" >100</text>
<text x="-24.15" y="0" font-size="12" fill="#231f20" textLength="48.83" lengthAdjust="spacingAndGlyphs" transform="translate(76.90,431.00) rotate(-90)" style="stroke-width:0.2px">Viability (%)</text>
<text x="126.57" y="517.82" font-size="10.5" font-weight="normal" fill="#231f20" textLength="14.37" lengthAdjust="spacingAndGlyphs" >(–)</text>
<text x="161.19" y="517.82" font-size="10.5" font-weight="normal" fill="#231f20" textLength="33.08" lengthAdjust="spacingAndGlyphs" style="stroke-width:0.4px" >0.0098</text>
<text x="213.85" y="517.82" font-size="10.5" font-weight="normal" fill="#231f20" textLength="27.06" lengthAdjust="spacingAndGlyphs" style="stroke-width:0.4px" >0.039</text>
<text x="263.46" y="517.82" font-size="10.5" font-weight="normal" fill="#231f20" textLength="27.06" lengthAdjust="spacingAndGlyphs" style="stroke-width:0.4px" >0.156</text>
<text x="313.08" y="517.82" font-size="10.5" font-weight="normal" fill="#231f20" textLength="27.06" lengthAdjust="spacingAndGlyphs" style="stroke-width:0.4px" >0.625</text>
<text x="368.67" y="517.82" font-size="10.5" font-weight="normal" fill="#231f20" textLength="15.03" lengthAdjust="spacingAndGlyphs" style="stroke-width:0.4px" >2.5</text>
<text x="419.64" y="517.82" font-size="10.5" font-weight="normal" fill="#231f20" textLength="12.03" lengthAdjust="spacingAndGlyphs" style="stroke-width:0.4px" >10</text>
<text x="469.56" y="517.82" font-size="10.5" font-weight="normal" fill="#231f20" textLength="12.03" lengthAdjust="spacingAndGlyphs" style="stroke-width:0.4px" >40</text>
<text x="253.49" y="535.20" font-size="12" font-weight="normal" fill="#231f20" textLength="92.89" lengthAdjust="spacingAndGlyphs" style="stroke-width:0.2px" >l-asparaginase (IU/mL)</text>
<line x1="169.70" y1="472.00" x2="169.70" y2="503.30" stroke="#d01d3a" stroke-width="1.25" />
<line x1="166.80" y1="472.00" x2="172.60" y2="472.00" stroke="#d01d3a" stroke-width="1.25" />
<line x1="166.80" y1="503.30" x2="172.60" y2="503.30" stroke="#d01d3a" stroke-width="1.25" />
<rect x="166.70" y="479.60" width="6.0" height="15.50" fill="#eb9482" stroke="#231f20" stroke-width="1.2"/>
<line x1="219.33" y1="471.40" x2="219.33" y2="504.40" stroke="#d01d3a" stroke-width="1.25" />
<line x1="216.43" y1="471.40" x2="222.23" y2="471.40" stroke="#d01d3a" stroke-width="1.25" />
<line x1="216.43" y1="504.40" x2="222.23" y2="504.40" stroke="#d01d3a" stroke-width="1.25" />
<rect x="216.33" y="480.20" width="6.0" height="17.30" fill="#eb9482" stroke="#231f20" stroke-width="1.2"/>
<line x1="268.96" y1="472.70" x2="268.96" y2="503.80" stroke="#d01d3a" stroke-width="1.25" />
<line x1="266.06" y1="472.70" x2="271.86" y2="472.70" stroke="#d01d3a" stroke-width="1.25" />
<line x1="266.06" y1="503.80" x2="271.86" y2="503.80" stroke="#d01d3a" stroke-width="1.25" />
<rect x="265.96" y="478.50" width="6.0" height="20.50" fill="#eb9482" stroke="#231f20" stroke-width="1.2"/>
<line x1="318.59" y1="476.80" x2="318.59" y2="505.00" stroke="#d01d3a" stroke-width="1.25" />
<line x1="315.69" y1="476.80" x2="321.49" y2="476.80" stroke="#d01d3a" stroke-width="1.25" />
<line x1="315.69" y1="504.60" x2="321.49" y2="504.60" stroke="#d01d3a" stroke-width="1.25" />
<rect x="315.59" y="476.80" width="6.0" height="24.80" fill="#eb9482" stroke="#231f20" stroke-width="1.2"/>
<line x1="368.22" y1="475.30" x2="368.22" y2="505.00" stroke="#d01d3a" stroke-width="1.25" />
<line x1="365.32" y1="475.30" x2="371.12" y2="475.30" stroke="#d01d3a" stroke-width="1.25" />
<line x1="365.32" y1="504.60" x2="371.12" y2="504.60" stroke="#d01d3a" stroke-width="1.25" />
<rect x="365.22" y="480.20" width="6.0" height="22.10" fill="#eb9482" stroke="#231f20" stroke-width="1.2"/>
<line x1="417.85" y1="473.80" x2="417.85" y2="505.00" stroke="#d01d3a" stroke-width="1.25" />
<line x1="414.95" y1="473.80" x2="420.75" y2="473.80" stroke="#d01d3a" stroke-width="1.25" />
<line x1="414.95" y1="504.60" x2="420.75" y2="504.60" stroke="#d01d3a" stroke-width="1.25" />
<rect x="414.85" y="482.80" width="6.0" height="22.20" fill="#eb9482" stroke="#231f20" stroke-width="1.2"/>
<line x1="467.48" y1="473.20" x2="467.48" y2="505.00" stroke="#d01d3a" stroke-width="1.25" />
<line x1="464.58" y1="473.20" x2="470.38" y2="473.20" stroke="#d01d3a" stroke-width="1.25" />
<line x1="464.58" y1="504.60" x2="470.38" y2="504.60" stroke="#d01d3a" stroke-width="1.25" />
<rect x="464.48" y="486.90" width="6.0" height="18.10" fill="#eb9482" stroke="#231f20" stroke-width="1.2"/>
<line x1="186.00" y1="364.00" x2="186.00" y2="440.00" stroke="#1c62a0" stroke-width="1.25" />
<line x1="183.10" y1="364.00" x2="188.90" y2="364.00" stroke="#1c62a0" stroke-width="1.25" />
<line x1="183.10" y1="440.00" x2="188.90" y2="440.00" stroke="#1c62a0" stroke-width="1.25" />
<rect x="183.00" y="377.40" width="6.0" height="33.10" fill="#808dbb" stroke="#231f20" stroke-width="1.2"/>
<line x1="235.63" y1="368.40" x2="235.63" y2="439.20" stroke="#1c62a0" stroke-width="1.25" />
<line x1="232.73" y1="368.40" x2="238.53" y2="368.40" stroke="#1c62a0" stroke-width="1.25" />
<line x1="232.73" y1="439.20" x2="238.53" y2="439.20" stroke="#1c62a0" stroke-width="1.25" />
<rect x="232.63" y="377.60" width="6.0" height="34.00" fill="#808dbb" stroke="#231f20" stroke-width="1.2"/>
<line x1="285.26" y1="377.60" x2="285.26" y2="459.00" stroke="#1c62a0" stroke-width="1.25" />
<line x1="282.36" y1="377.60" x2="288.16" y2="377.60" stroke="#1c62a0" stroke-width="1.25" />
<line x1="282.36" y1="459.00" x2="288.16" y2="459.00" stroke="#1c62a0" stroke-width="1.25" />
<rect x="282.26" y="399.20" width="6.0" height="28.10" fill="#808dbb" stroke="#231f20" stroke-width="1.2"/>
<line x1="334.89" y1="423.90" x2="334.89" y2="505.00" stroke="#1c62a0" stroke-width="1.25" />
<line x1="331.99" y1="423.90" x2="337.79" y2="423.90" stroke="#1c62a0" stroke-width="1.25" />
<line x1="331.99" y1="504.60" x2="337.79" y2="504.60" stroke="#1c62a0" stroke-width="1.25" />
<rect x="331.89" y="463.00" width="6.0" height="32.10" fill="#808dbb" stroke="#231f20" stroke-width="1.2"/>
<line x1="384.52" y1="434.90" x2="384.52" y2="505.00" stroke="#1c62a0" stroke-width="1.25" />
<line x1="381.62" y1="434.90" x2="387.42" y2="434.90" stroke="#1c62a0" stroke-width="1.25" />
<line x1="381.62" y1="504.60" x2="387.42" y2="504.60" stroke="#1c62a0" stroke-width="1.25" />
<rect x="381.52" y="484.60" width="6.0" height="20.40" fill="#808dbb" stroke="#231f20" stroke-width="1.2"/>
<line x1="434.15" y1="436.00" x2="434.15" y2="505.00" stroke="#1c62a0" stroke-width="1.25" />
<line x1="431.25" y1="436.00" x2="437.05" y2="436.00" stroke="#1c62a0" stroke-width="1.25" />
<line x1="431.25" y1="504.60" x2="437.05" y2="504.60" stroke="#1c62a0" stroke-width="1.25" />
<rect x="431.15" y="489.30" width="6.0" height="15.70" fill="#808dbb" stroke="#231f20" stroke-width="1.2"/>
<line x1="483.78" y1="437.10" x2="483.78" y2="505.00" stroke="#1c62a0" stroke-width="1.25" />
<line x1="480.88" y1="437.10" x2="486.68" y2="437.10" stroke="#1c62a0" stroke-width="1.25" />
<line x1="480.88" y1="504.60" x2="486.68" y2="504.60" stroke="#1c62a0" stroke-width="1.25" />
<rect x="480.78" y="490.50" width="6.0" height="14.50" fill="#808dbb" stroke="#231f20" stroke-width="1.2"/>
<path d="M136.50,354.50 L185.90,400.00 L235.53,397.50 L285.16,409.40 L334.79,480.70 L384.42,494.30 L434.05,501.20 L483.68,501.40" stroke="#174f8c" stroke-width="1.8" fill="none" stroke-dasharray="4,2"/>
<line x1="177.90" y1="385.60" x2="177.90" y2="505.00" stroke="#3cba4a" stroke-width="1.25" />
<line x1="175.00" y1="385.60" x2="180.80" y2="385.60" stroke="#3cba4a" stroke-width="1.25" />
<line x1="175.00" y1="504.60" x2="180.80" y2="504.60" stroke="#3cba4a" stroke-width="1.25" />
<rect x="174.90" y="393.20" width="6.0" height="58.30" fill="#a9daa1" stroke="#231f20" stroke-width="1.2"/>
<line x1="227.53" y1="387.80" x2="227.53" y2="505.00" stroke="#3cba4a" stroke-width="1.25" />
<line x1="224.63" y1="387.80" x2="230.43" y2="387.80" stroke="#3cba4a" stroke-width="1.25" />
<line x1="224.63" y1="504.60" x2="230.43" y2="504.60" stroke="#3cba4a" stroke-width="1.25" />
<rect x="224.53" y="396.90" width="6.0" height="58.90" fill="#a9daa1" stroke="#231f20" stroke-width="1.2"/>
<line x1="277.16" y1="410.00" x2="277.16" y2="505.00" stroke="#3cba4a" stroke-width="1.25" />
<line x1="274.26" y1="410.00" x2="280.06" y2="410.00" stroke="#3cba4a" stroke-width="1.25" />
<line x1="274.26" y1="504.60" x2="280.06" y2="504.60" stroke="#3cba4a" stroke-width="1.25" />
<rect x="274.16" y="419.50" width="6.0" height="46.00" fill="#a9daa1" stroke="#231f20" stroke-width="1.2"/>
<line x1="326.79" y1="463.40" x2="326.79" y2="505.00" stroke="#3cba4a" stroke-width="1.25" />
<line x1="323.89" y1="463.40" x2="329.69" y2="463.40" stroke="#3cba4a" stroke-width="1.25" />
<line x1="323.89" y1="504.60" x2="329.69" y2="504.60" stroke="#3cba4a" stroke-width="1.25" />
<rect x="323.79" y="465.50" width="6.0" height="21.60" fill="#a9daa1" stroke="#231f20" stroke-width="1.2"/>
<line x1="376.42" y1="474.60" x2="376.42" y2="505.00" stroke="#3cba4a" stroke-width="1.25" />
<line x1="373.52" y1="474.60" x2="379.32" y2="474.60" stroke="#3cba4a" stroke-width="1.25" />
<line x1="373.52" y1="504.60" x2="379.32" y2="504.60" stroke="#3cba4a" stroke-width="1.25" />
<rect x="373.42" y="481.10" width="6.0" height="13.60" fill="#a9daa1" stroke="#231f20" stroke-width="1.2"/>
<line x1="426.05" y1="477.90" x2="426.05" y2="505.00" stroke="#3cba4a" stroke-width="1.25" />
<line x1="423.15" y1="477.90" x2="428.95" y2="477.90" stroke="#3cba4a" stroke-width="1.25" />
<line x1="423.15" y1="504.60" x2="428.95" y2="504.60" stroke="#3cba4a" stroke-width="1.25" />
<rect x="423.05" y="486.50" width="6.0" height="11.00" fill="#a9daa1" stroke="#231f20" stroke-width="1.2"/>
<line x1="475.68" y1="478.60" x2="475.68" y2="505.00" stroke="#3cba4a" stroke-width="1.25" />
<line x1="472.78" y1="478.60" x2="478.58" y2="478.60" stroke="#3cba4a" stroke-width="1.25" />
<line x1="472.78" y1="504.60" x2="478.58" y2="504.60" stroke="#3cba4a" stroke-width="1.25" />
<rect x="472.68" y="485.60" width="6.0" height="14.00" fill="#a9daa1" stroke="#231f20" stroke-width="1.2"/>
<path d="M128.80,354.50 L177.70,398.60 L227.33,405.70 L276.96,426.00 L326.59,466.60 L376.22,488.20 L425.85,493.60 L475.48,494.20" stroke="#2db34a" stroke-width="1.8" fill="none" stroke-dasharray="4,2"/>
<path d="M121.20,354.50 L167.30,486.50 L219.33,488.90 L268.96,492.50 L318.59,493.60 L368.22,493.60 L417.85,493.60 L467.48,494.20" stroke="#c8102e" stroke-width="1.8" fill="none" stroke-dasharray="4,2"/>
<rect x="110" y="354.5" width="380.8" height="151.10000000000002" fill="none" stroke="#231f20" stroke-width="1.4"/>
<text x="172.56" y="336.20" font-size="8.5" font-weight="normal" fill="#231f20" textLength="10.30" lengthAdjust="spacingAndGlyphs" style="stroke-width:0.3px" >***</text>
<path d="M169.40,338.6 V336.1 H186.00 V338.6" stroke="#231f20" stroke-width="1.1" fill="none" />
<text x="162.15" y="346.50" font-size="8.6" font-weight="normal" fill="#231f20" textLength="33.18" lengthAdjust="spacingAndGlyphs" >N.S.N.S.</text>
<path d="M170.30,351 V348.7 H177.00 V351" stroke="#231f20" stroke-width="1.1" fill="none" />
<path d="M179.10,351 V348.7 H185.80 V351" stroke="#231f20" stroke-width="1.1" fill="none" />
<text x="222.19" y="336.20" font-size="8.5" font-weight="normal" fill="#231f20" textLength="10.30" lengthAdjust="spacingAndGlyphs" style="stroke-width:0.3px" >***</text>
<path d="M219.03,338.6 V336.1 H235.63 V338.6" stroke="#231f20" stroke-width="1.1" fill="none" />
<text x="211.78" y="346.50" font-size="8.6" font-weight="normal" fill="#231f20" textLength="33.18" lengthAdjust="spacingAndGlyphs" >N.S.N.S.</text>
<path d="M219.93,351 V348.7 H226.63 V351" stroke="#231f20" stroke-width="1.1" fill="none" />
<path d="M228.73,351 V348.7 H235.43 V351" stroke="#231f20" stroke-width="1.1" fill="none" />
<text x="271.82" y="336.20" font-size="8.5" font-weight="normal" fill="#231f20" textLength="10.30" lengthAdjust="spacingAndGlyphs" style="stroke-width:0.3px" >***</text>
<path d="M268.66,338.6 V336.1 H285.26 V338.6" stroke="#231f20" stroke-width="1.1" fill="none" />
<text x="261.41" y="346.50" font-size="8.6" font-weight="normal" fill="#231f20" textLength="33.18" lengthAdjust="spacingAndGlyphs" >N.S.N.S.</text>
<path d="M269.56,351 V348.7 H276.26 V351" stroke="#231f20" stroke-width="1.1" fill="none" />
<path d="M278.36,351 V348.7 H285.06 V351" stroke="#231f20" stroke-width="1.1" fill="none" />
<text x="318.50" y="334.20" font-size="8.6" font-weight="normal" fill="#231f20" textLength="16.25" lengthAdjust="spacingAndGlyphs" >N.S.</text>
<path d="M318.29,338.6 V336.1 H334.89 V338.6" stroke="#231f20" stroke-width="1.1" fill="none" />
<text x="311.04" y="346.50" font-size="8.6" font-weight="normal" fill="#231f20" textLength="33.18" lengthAdjust="spacingAndGlyphs" >N.S.N.S.</text>
<path d="M319.19,351 V348.7 H325.89 V351" stroke="#231f20" stroke-width="1.1" fill="none" />
<path d="M327.99,351 V348.7 H334.69 V351" stroke="#231f20" stroke-width="1.1" fill="none" />
<text x="368.13" y="334.20" font-size="8.6" font-weight="normal" fill="#231f20" textLength="16.25" lengthAdjust="spacingAndGlyphs" >N.S.</text>
<path d="M367.92,338.6 V336.1 H384.52 V338.6" stroke="#231f20" stroke-width="1.1" fill="none" />
<text x="360.67" y="346.50" font-size="8.6" font-weight="normal" fill="#231f20" textLength="33.18" lengthAdjust="spacingAndGlyphs" >N.S.N.S.</text>
<path d="M368.82,351 V348.7 H375.52 V351" stroke="#231f20" stroke-width="1.1" fill="none" />
<path d="M377.62,351 V348.7 H384.32 V351" stroke="#231f20" stroke-width="1.1" fill="none" />
<text x="417.76" y="334.20" font-size="8.6" font-weight="normal" fill="#231f20" textLength="16.25" lengthAdjust="spacingAndGlyphs" >N.S.</text>
<path d="M417.55,338.6 V336.1 H434.15 V338.6" stroke="#231f20" stroke-width="1.1" fill="none" />
<text x="410.30" y="346.50" font-size="8.6" font-weight="normal" fill="#231f20" textLength="33.18" lengthAdjust="spacingAndGlyphs" >N.S.N.S.</text>
<path d="M418.45,351 V348.7 H425.15 V351" stroke="#231f20" stroke-width="1.1" fill="none" />
<path d="M427.25,351 V348.7 H433.95 V351" stroke="#231f20" stroke-width="1.1" fill="none" />
<text x="467.39" y="334.20" font-size="8.6" font-weight="normal" fill="#231f20" textLength="16.25" lengthAdjust="spacingAndGlyphs" >N.S.</text>
<path d="M467.18,338.6 V336.1 H483.78 V338.6" stroke="#231f20" stroke-width="1.1" fill="none" />
<text x="459.93" y="346.50" font-size="8.6" font-weight="normal" fill="#231f20" textLength="33.18" lengthAdjust="spacingAndGlyphs" >N.S.N.S.</text>
<path d="M468.08,351 V348.7 H474.78 V351" stroke="#231f20" stroke-width="1.1" fill="none" />
<path d="M476.88,351 V348.7 H483.58 V351" stroke="#231f20" stroke-width="1.1" fill="none" />
<line x1="85.00" y1="695.50" x2="89.10" y2="695.50" stroke="#231f20" stroke-width="1.2" />
<text x="47.67" y="698.92" font-size="10.5" font-weight="normal" fill="#231f20" textLength="33.08" lengthAdjust="spacingAndGlyphs" style="stroke-width:0.4px" >0.0001</text>
<line x1="85.00" y1="673.70" x2="89.10" y2="673.70" stroke="#231f20" stroke-width="1.2" />
<text x="53.68" y="677.12" font-size="10.5" font-weight="normal" fill="#231f20" textLength="27.06" lengthAdjust="spacingAndGlyphs" style="stroke-width:0.4px" >0.001</text>
<line x1="85.00" y1="651.90" x2="89.10" y2="651.90" stroke="#231f20" stroke-width="1.2" />
<text x="59.69" y="655.32" font-size="10.5" font-weight="normal" fill="#231f20" textLength="21.05" lengthAdjust="spacingAndGlyphs" style="stroke-width:0.4px" >0.01</text>
<line x1="85.00" y1="630.10" x2="89.10" y2="630.10" stroke="#231f20" stroke-width="1.2" />
<text x="65.71" y="633.52" font-size="10.5" font-weight="normal" fill="#231f20" textLength="15.03" lengthAdjust="spacingAndGlyphs" style="stroke-width:0.4px" >0.1</text>
<line x1="85.00" y1="608.30" x2="89.10" y2="608.30" stroke="#231f20" stroke-width="1.2" />
<text x="74.73" y="611.72" font-size="10.5" font-weight="normal" fill="#231f20" textLength="6.01" lengthAdjust="spacingAndGlyphs" style="stroke-width:0.4px" >1</text>
<line x1="85.00" y1="586.50" x2="89.10" y2="586.50" stroke="#231f20" stroke-width="1.2" />
<text x="68.61" y="589.92" font-size="10.5" font-weight="normal" fill="#231f20" textLength="12.03" lengthAdjust="spacingAndGlyphs" style="stroke-width:0.4px" >10</text>
<line x1="89.10" y1="585.80" x2="89.10" y2="696.20" stroke="#231f20" stroke-width="1.45" />
<line x1="84.80" y1="695.70" x2="253.50" y2="695.70" stroke="#231f20" stroke-width="1.45" />
<line x1="88.90" y1="695.70" x2="88.90" y2="699.30" stroke="#231f20" stroke-width="1.2" />
<text x="85.90" y="711.12" font-size="10.5" font-weight="normal" fill="#231f20" textLength="6.01" lengthAdjust="spacingAndGlyphs" style="stroke-width:0.4px" >0</text>
<line x1="121.72" y1="695.70" x2="121.72" y2="699.30" stroke="#231f20" stroke-width="1.2" />
<text x="115.65" y="711.12" font-size="10.5" font-weight="normal" fill="#231f20" textLength="12.03" lengthAdjust="spacingAndGlyphs" style="stroke-width:0.4px" >20</text>
<line x1="154.54" y1="695.70" x2="154.54" y2="699.30" stroke="#231f20" stroke-width="1.2" />
<text x="148.62" y="711.12" font-size="10.5" font-weight="normal" fill="#231f20" textLength="12.03" lengthAdjust="spacingAndGlyphs" style="stroke-width:0.4px" >40</text>
<line x1="187.36" y1="695.70" x2="187.36" y2="699.30" stroke="#231f20" stroke-width="1.2" />
<text x="181.29" y="711.12" font-size="10.5" font-weight="normal" fill="#231f20" textLength="12.03" lengthAdjust="spacingAndGlyphs" style="stroke-width:0.4px" >60</text>
<line x1="220.18" y1="695.70" x2="220.18" y2="699.30" stroke="#231f20" stroke-width="1.2" />
<text x="214.15" y="711.12" font-size="10.5" font-weight="normal" fill="#231f20" textLength="12.03" lengthAdjust="spacingAndGlyphs" style="stroke-width:0.4px" >80</text>
<line x1="253.00" y1="695.70" x2="253.00" y2="699.30" stroke="#231f20" stroke-width="1.2" />
<text x="243.79" y="711.12" font-size="10.5" font-weight="normal" fill="#231f20" textLength="18.04" lengthAdjust="spacingAndGlyphs" style="stroke-width:0.4px" >100</text>
<text x="141.97" y="728.80" font-size="12" font-weight="normal" fill="#231f20" textLength="58.04" lengthAdjust="spacingAndGlyphs" style="stroke-width:0.2px" >% Methylation</text>
<text x="99.1" y="579.2" font-size="9.3" fill="#231f20" style="stroke-width:0.45px" textLength="141.5" lengthAdjust="spacingAndGlyphs">r = −0.68, R<tspan dy="-3.8" font-size="5.8">2</tspan><tspan dy="3.8"> = 0.46, </tspan><tspan font-weight="bold" font-style="italic">P</tspan> = 0.0005</text>
<text x="0" y="0" font-size="12" fill="#231f20" text-anchor="middle" style="stroke-width:0.1px" transform="translate(33,642.1) rotate(-90)" textLength="85.5" lengthAdjust="spacingAndGlyphs">IC<tspan font-size="9.6" dy="3">50</tspan><tspan dy="-3"> of l-asparaginase</tspan></text>
<text x="-16.36" y="0" font-size="12" fill="#231f20" textLength="32.73" lengthAdjust="spacingAndGlyphs" transform="translate(48.80,642.30) rotate(-90)" style="stroke-width:0.1px">(IU/mL)</text>
<circle cx="92.80" cy="605.10" r="2.1" fill="#c8102e"/>
<circle cx="91.10" cy="613.00" r="2.1" fill="#c8102e"/>
<circle cx="95.70" cy="618.30" r="2.1" fill="#c8102e"/>
<circle cx="91.10" cy="620.80" r="2.1" fill="#c8102e"/>
<circle cx="93.00" cy="620.50" r="2.1" fill="#c8102e"/>
<circle cx="101.20" cy="621.20" r="2.1" fill="#c8102e"/>
<circle cx="95.00" cy="622.90" r="2.1" fill="#c8102e"/>
<circle cx="100.80" cy="625.00" r="2.1" fill="#c8102e"/>
<circle cx="91.60" cy="628.80" r="2.1" fill="#c8102e"/>
<circle cx="93.50" cy="637.00" r="2.1" fill="#c8102e"/>
<circle cx="120.30" cy="619.20" r="2.1" fill="#c8102e"/>
<circle cx="121.20" cy="625.30" r="2.1" fill="#c8102e"/>
<circle cx="145.60" cy="624.90" r="2.1" fill="#c8102e"/>
<circle cx="138.30" cy="682.80" r="2.1" fill="#c8102e"/>
<circle cx="175.10" cy="624.90" r="2.1" fill="#124c86"/>
<circle cx="181.90" cy="620.60" r="2.1" fill="#124c86"/>
<circle cx="174.00" cy="691.20" r="2.1" fill="#124c86"/>
<circle cx="233.70" cy="689.50" r="2.1" fill="#3aaa48"/>
<circle cx="245.60" cy="685.50" r="2.1" fill="#3aaa48"/>
<circle cx="248.70" cy="686.60" r="2.1" fill="#3aaa48"/>
<circle cx="244.70" cy="691.20" r="2.1" fill="#3aaa48"/>
<circle cx="245.10" cy="693.20" r="2.1" fill="#3aaa48"/>
<circle cx="245.50" cy="689.00" r="2.1" fill="#3aaa48"/>
<line x1="340.90" y1="700.60" x2="345.10" y2="700.60" stroke="#231f20" stroke-width="1.2" />
<text x="303.67" y="704.02" font-size="10.5" font-weight="normal" fill="#231f20" textLength="33.08" lengthAdjust="spacingAndGlyphs" style="stroke-width:0.4px" >0.0001</text>
<line x1="340.90" y1="678.65" x2="345.10" y2="678.65" stroke="#231f20" stroke-width="1.2" />
<text x="309.68" y="682.07" font-size="10.5" font-weight="normal" fill="#231f20" textLength="27.06" lengthAdjust="spacingAndGlyphs" style="stroke-width:0.4px" >0.001</text>
<line x1="340.90" y1="656.70" x2="345.10" y2="656.70" stroke="#231f20" stroke-width="1.2" />
<text x="315.69" y="660.12" font-size="10.5" font-weight="normal" fill="#231f20" textLength="21.05" lengthAdjust="spacingAndGlyphs" style="stroke-width:0.4px" >0.01</text>
<line x1="340.90" y1="634.75" x2="345.10" y2="634.75" stroke="#231f20" stroke-width="1.2" />
<text x="321.71" y="638.17" font-size="10.5" font-weight="normal" fill="#231f20" textLength="15.03" lengthAdjust="spacingAndGlyphs" style="stroke-width:0.4px" >0.1</text>
<line x1="340.90" y1="612.80" x2="345.10" y2="612.80" stroke="#231f20" stroke-width="1.2" />
<text x="330.73" y="616.22" font-size="10.5" font-weight="normal" fill="#231f20" textLength="6.01" lengthAdjust="spacingAndGlyphs" style="stroke-width:0.4px" >1</text>
<line x1="340.90" y1="590.85" x2="345.10" y2="590.85" stroke="#231f20" stroke-width="1.2" />
<text x="324.61" y="594.27" font-size="10.5" font-weight="normal" fill="#231f20" textLength="12.03" lengthAdjust="spacingAndGlyphs" style="stroke-width:0.4px" >10</text>
<line x1="345.10" y1="590.20" x2="345.10" y2="701.30" stroke="#231f20" stroke-width="1.45" />
<line x1="340.80" y1="700.80" x2="509.80" y2="700.80" stroke="#231f20" stroke-width="1.45" />
<line x1="377.80" y1="700.80" x2="377.80" y2="704.40" stroke="#231f20" stroke-width="1.2" />
<line x1="426.90" y1="700.80" x2="426.90" y2="704.40" stroke="#231f20" stroke-width="1.2" />
<line x1="475.80" y1="700.80" x2="475.80" y2="704.40" stroke="#231f20" stroke-width="1.2" />
<text x="364.35" y="716.90" font-size="10.4" font-weight="normal" fill="#231f20" textLength="26.45" lengthAdjust="spacingAndGlyphs" style="stroke-width:0.38px" >Weak</text>
<text x="412.57" y="716.90" font-size="10.4" font-weight="normal" fill="#231f20" textLength="28.58" lengthAdjust="spacingAndGlyphs" style="stroke-width:0.38px" >Inter-</text>
<text x="406.24" y="730.10" font-size="10.4" font-weight="normal" fill="#231f20" textLength="40.78" lengthAdjust="spacingAndGlyphs" style="stroke-width:0.38px" >mediate</text>
<text x="463.94" y="716.90" font-size="10.4" font-weight="normal" fill="#231f20" textLength="24.02" lengthAdjust="spacingAndGlyphs" style="stroke-width:0.38px" >High</text>
<text x="0" y="0" font-size="12" fill="#231f20" text-anchor="middle" style="stroke-width:0.1px" transform="translate(289.6,645.8) rotate(-90)" textLength="86.5" lengthAdjust="spacingAndGlyphs">IC<tspan font-size="9.6" dy="3">50</tspan><tspan dy="-3"> of l-asparaginase</tspan></text>
<text x="-16.51" y="0" font-size="12" fill="#231f20" textLength="33.04" lengthAdjust="spacingAndGlyphs" transform="translate(305.20,645.80) rotate(-90)" style="stroke-width:0.1px">(IU/mL)</text>
<line x1="368.00" y1="625.40" x2="387.50" y2="625.40" stroke="#c8102e" stroke-width="1.1" />
<line x1="370.90" y1="629.80" x2="384.40" y2="629.80" stroke="#c8102e" stroke-width="1.1" />
<line x1="377.80" y1="623.00" x2="377.80" y2="633.70" stroke="#c8102e" stroke-width="1.1" />
<circle cx="377.80" cy="609.50" r="2.1" fill="#c8102e"/>
<circle cx="377.80" cy="617.60" r="2.1" fill="#c8102e"/>
<circle cx="368.00" cy="624.70" r="2.1" fill="#c8102e"/>
<circle cx="374.40" cy="623.40" r="2.1" fill="#c8102e"/>
<circle cx="381.00" cy="622.50" r="2.1" fill="#c8102e"/>
<circle cx="387.50" cy="624.70" r="2.1" fill="#c8102e"/>
<circle cx="364.50" cy="627.70" r="2.1" fill="#c8102e"/>
<circle cx="370.90" cy="629.80" r="2.1" fill="#c8102e"/>
<circle cx="377.80" cy="629.50" r="2.1" fill="#c8102e"/>
<circle cx="384.40" cy="629.80" r="2.1" fill="#c8102e"/>
<circle cx="390.80" cy="629.40" r="2.1" fill="#c8102e"/>
<circle cx="377.80" cy="633.70" r="2.1" fill="#c8102e"/>
<circle cx="377.80" cy="641.90" r="2.1" fill="#c8102e"/>
<circle cx="377.80" cy="687.90" r="2.1" fill="#c8102e"/>
<line x1="361.90" y1="626.80" x2="393.90" y2="626.80" stroke="#231f20" stroke-width="1.5" />
<line x1="426.80" y1="625.40" x2="426.80" y2="696.00" stroke="#1f5f9a" stroke-width="1.2" />
<line x1="419.00" y1="625.40" x2="435.00" y2="625.40" stroke="#1f5f9a" stroke-width="1.2" />
<line x1="419.00" y1="696.00" x2="435.00" y2="696.00" stroke="#1f5f9a" stroke-width="1.2" />
<circle cx="423.70" cy="625.40" r="2.1" fill="#124c86"/>
<circle cx="430.30" cy="629.80" r="2.1" fill="#124c86"/>
<circle cx="426.80" cy="696.00" r="2.1" fill="#124c86"/>
<line x1="410.70" y1="629.80" x2="443.20" y2="629.80" stroke="#231f20" stroke-width="1.5" />
<line x1="468.30" y1="691.30" x2="485.80" y2="691.30" stroke="#3aaa48" stroke-width="1.1" />
<line x1="468.80" y1="697.00" x2="483.80" y2="697.00" stroke="#3aaa48" stroke-width="1.1" />
<line x1="476.00" y1="691.30" x2="476.00" y2="697.00" stroke="#3aaa48" stroke-width="1.1" />
<circle cx="476.00" cy="690.40" r="2.1" fill="#3aaa48"/>
<circle cx="485.80" cy="691.30" r="2.1" fill="#3aaa48"/>
<circle cx="466.20" cy="694.40" r="2.1" fill="#3aaa48"/>
<circle cx="479.20" cy="695.00" r="2.1" fill="#3aaa48"/>
<circle cx="472.90" cy="697.90" r="2.1" fill="#3aaa48"/>
<line x1="459.80" y1="694.70" x2="492.20" y2="694.70" stroke="#231f20" stroke-width="1.5" />
<path d="M402.2,563.2 V559.3 H475.7 V566.8" stroke="#231f20" stroke-width="1.2" fill="none" />
<path d="M379,566.8 V563.3 H427.3 V566.8" stroke="#231f20" stroke-width="1.2" fill="none" />
<text x="433.66" y="559.00" font-size="8.5" font-weight="normal" fill="#231f20" textLength="10.30" lengthAdjust="spacingAndGlyphs" style="stroke-width:0.3px" >***</text>
<text x="421.36" y="580.50" font-size="8.5" font-weight="normal" fill="#231f20" textLength="10.30" lengthAdjust="spacingAndGlyphs" style="stroke-width:0.3px" >***</text>
<path d="M374.6,583.3 V579.6 H478 V583.3" stroke="#231f20" stroke-width="1.2" fill="none" />
<text x="391.88" y="591.20" font-size="9.2" font-weight="normal" fill="#231f20" textLength="19.44" lengthAdjust="spacingAndGlyphs" >N.S.</text>
<text x="443.88" y="591.20" font-size="9.2" font-weight="normal" fill="#231f20" textLength="19.44" lengthAdjust="spacingAndGlyphs" >N.S.</text>
<path d="M378.3,598.2 V594.4 H424.5 V598.2" stroke="#231f20" stroke-width="1.2" fill="none" />
<path d="M430.5,598.2 V594.4 H476.2 V598.2" stroke="#231f20" stroke-width="1.2" fill="none" />
</svg></body></html>
